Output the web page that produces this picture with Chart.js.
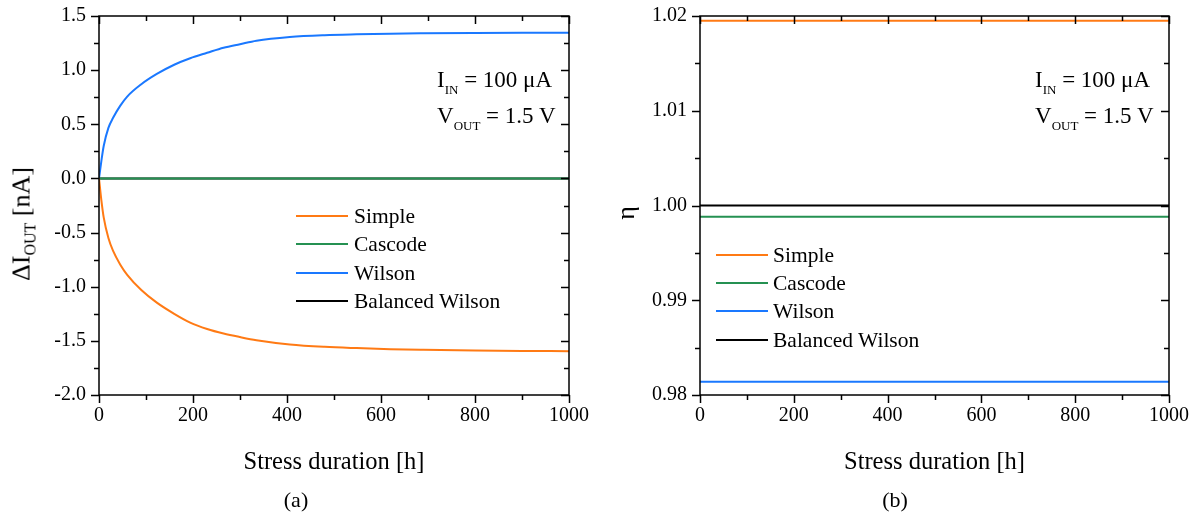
<!DOCTYPE html>
<html>
<head>
<meta charset="utf-8">
<script src="https://cdn.jsdelivr.net/npm/chart.js@4.4.1/dist/chart.umd.min.js"></script>
<style>
  html, body { margin:0; padding:0; background:#fff; }
  #wrap { position:relative; width:1199px; height:518px; background:#fff; overflow:hidden;
          font-family:"Liberation Serif", "DejaVu Serif", serif; color:#000; }
  .cv { position:absolute; top:0; }
  .txt { position:absolute; white-space:nowrap; font-size:23px; line-height:24px; }
  .sub { font-size:13px; position:relative; top:7px; }
  .leg { position:absolute; white-space:nowrap; font-size:21.5px; line-height:24px; }
  .legline { position:absolute; height:2px; }
</style>
</head>
<body>
<div id="wrap">
  <canvas id="c1" class="cv" width="590" height="518" style="left:0px"></canvas>
  <canvas id="c2" class="cv" width="609" height="518" style="left:590px"></canvas>
  <div class="txt" style="left:23px; top:224px; font-size:26px; line-height:28px; transform:translate(-50%,-50%) rotate(-90deg);">ΔI<span class="sub" style="font-size:16px;top:6px">OUT</span> [nA]</div>
  <div class="txt" style="left:626px; top:213px; font-size:26px; line-height:28px; transform:translate(-50%,-50%) rotate(-90deg);">η</div>
  <div class="txt" style="left:437px; top:68px;">I<span class="sub">IN</span> = 100 μA</div>
  <div class="txt" style="left:437px; top:104px;">V<span class="sub">OUT</span> = 1.5 V</div>
  <div class="txt" style="left:1035px; top:68px;">I<span class="sub">IN</span> = 100 μA</div>
  <div class="txt" style="left:1035px; top:104px;">V<span class="sub">OUT</span> = 1.5 V</div>
  <div class="txt" style="left:296px; top:500px; font-size:22px; transform:translate(-50%,-50%);">(a)</div>
  <div class="txt" style="left:895px; top:500px; font-size:22px; transform:translate(-50%,-50%);">(b)</div>
  <div id="legA"></div>
  <div id="legB"></div>
</div>
<script>
// ---------- data ----------
const seriesNames = ["Simple", "Cascode", "Wilson", "Balanced Wilson"];
const seriesColors = ["#ff7a14", "#259152", "#1a78ff", "#000000"];

// (a) Delta I_OUT [nA] vs stress duration [h]
const hoursA     = [0, 5, 10, 20, 30, 45, 60, 90, 123, 160, 194, 230, 265, 300, 335, 406, 480, 548, 620, 690, 800, 900, 1000];
const simpleA    = [0, -0.20, -0.36, -0.55, -0.67, -0.794, -0.89, -1.03, -1.147, -1.25, -1.331, -1.39, -1.432, -1.465, -1.494, -1.533, -1.555, -1.567, -1.577, -1.583, -1.590, -1.594, -1.595];
const cascodeA   = [0, 0, 0, 0, 0, 0, 0, 0, 0, 0, 0, 0, 0, 0, 0, 0, 0, 0, 0, 0, 0, 0, 0];
const wilsonA    = [0, 0.16, 0.30, 0.467, 0.56, 0.67, 0.756, 0.87, 0.965, 1.05, 1.11, 1.16, 1.207, 1.24, 1.272, 1.306, 1.323, 1.331, 1.337, 1.340, 1.343, 1.345, 1.346];
const balancedA  = [0, 0, 0, 0, 0, 0, 0, 0, 0, 0, 0, 0, 0, 0, 0, 0, 0, 0, 0, 0, 0, 0, 0];

// (b) eta vs stress duration [h]
const hoursB     = [0, 1000];
const simpleB    = [1.0195, 1.0195];
const cascodeB   = [0.9988, 0.9988];
const wilsonB    = [0.9814, 0.9814];
const balancedB  = [1.0000, 1.0000];

// axis ticks
const xTickStep = 200, xMinorStep = 100;
const yTickStepA = 0.5, yMinorStepA = 0.25;
const yTickStepB = 0.01, yMinorStepB = 0.005;

const FONT = "'Liberation Serif', 'DejaVu Serif', serif";

function pts(xs, ys) { return xs.map((x, i) => ({x: x, y: ys[i]})); }
function makeDatasets(xs, list) {
  return list.map((ys, i) => ({
    label: seriesNames[i], data: pts(xs, ys),
    borderColor: seriesColors[i], backgroundColor: seriesColors[i],
    borderWidth: 2, pointRadius: 0, cubicInterpolationMode: 'monotone', fill: false
  }));
}

const framePlugin = {
  id: 'frame',
  afterDatasetsDraw(chart, args, o) {
    const {ctx, chartArea: {left, right, top, bottom}, scales: {x, y}} = chart;
    ctx.save();
    ctx.strokeStyle = '#000'; ctx.lineWidth = 1.5; ctx.lineCap = 'butt';
    ctx.beginPath();
    const nx = Math.round((x.max - x.min) / o.xMin);
    for (let i = 0; i <= nx; i++) {
      const v = x.min + i * o.xMin;
      const major = (i % Math.round(o.xMaj / o.xMin)) === 0;
      const len = major ? 8 : 5;
      const px = Math.round(x.getPixelForValue(v)) + 0.5;
      ctx.moveTo(px, bottom); ctx.lineTo(px, bottom + len);
      ctx.moveTo(px, top); ctx.lineTo(px, top + len);
    }
    const ny = Math.round((y.max - y.min) / o.yMin);
    for (let i = 0; i <= ny; i++) {
      const v = y.min + i * o.yMin;
      const major = (i % Math.round(o.yMaj / o.yMin)) === 0;
      const len = major ? 8 : 5;
      const py = Math.round(y.getPixelForValue(v)) + 0.5;
      ctx.moveTo(left, py); ctx.lineTo(left - len, py);
      ctx.moveTo(right, py); ctx.lineTo(right - len, py);
    }
    ctx.stroke();
    ctx.strokeRect(left, top, right - left, bottom - top);
    ctx.restore();
  }
};

function baseOptions(cfg) {
  return {
    responsive: false, animation: false, devicePixelRatio: 1,
    layout: { padding: { left: 0, right: cfg.padRight, top: 16, bottom: 40 } },
    plugins: { legend: { display: false }, tooltip: { enabled: false },
               frame: { xMaj: xTickStep, xMin: xMinorStep, yMaj: cfg.yMaj, yMin: cfg.yMin } },
    scales: {
      x: {
        type: 'linear', min: 0, max: 1000,
        ticks: { stepSize: xTickStep, color: '#000', font: { family: FONT, size: 20 }, padding: 9, maxRotation: 0,
                 callback: v => String(Math.round(v)) },
        grid: { display: false, drawTicks: false }, border: { display: false },
        title: { display: true, text: 'Stress duration [h]', color: '#000', font: { family: FONT, size: 24.5 }, padding: { top: 0, bottom: 1 } },
        afterFit: s => { s.height = 83; s.paddingLeft = 0; s.paddingRight = 0; }
      },
      y: {
        type: 'linear', min: cfg.yMinV, max: cfg.yMaxV,
        ticks: { stepSize: cfg.yMaj, color: '#000', font: { family: FONT, size: 20 }, padding: 13,
                 callback: v => Number(v).toFixed(cfg.dec) },
        grid: { display: false, drawTicks: false }, border: { display: false },
        title: { display: false },
        afterFit: s => { s.width = cfg.yWidth; s.paddingTop = 0; s.paddingBottom = 0; }
      }
    }
  };
}

const chartA = new Chart(document.getElementById('c1'), {
  type: 'line',
  data: { datasets: makeDatasets(hoursA, [simpleA, cascodeA, wilsonA, balancedA]) },
  options: baseOptions({ padRight: 21, yMaj: yTickStepA, yMin: yMinorStepA, yMinV: -2, yMaxV: 1.5, dec: 1, yWidth: 99 }),
  plugins: [framePlugin]
});

const chartB = new Chart(document.getElementById('c2'), {
  type: 'line',
  data: { datasets: makeDatasets(hoursB, [simpleB, cascodeB, wilsonB, balancedB]) },
  options: baseOptions({ padRight: 30, yMaj: yTickStepB, yMin: yMinorStepB, yMinV: 0.98, yMaxV: 1.02, dec: 2, yWidth: 110 }),
  plugins: [framePlugin]
});

function buildLegend(el, chart, lx0, lx1, tx, y0, dy) {
  chart.data.datasets.forEach((ds, i) => {
    const yc = y0 + i * dy;
    const line = document.createElement('div');
    line.className = 'legline';
    line.style.left = lx0 + 'px'; line.style.width = (lx1 - lx0) + 'px';
    line.style.top = (yc - 1) + 'px'; line.style.background = ds.borderColor;
    el.appendChild(line);
    const t = document.createElement('div');
    t.className = 'leg'; t.textContent = ds.label;
    t.style.left = tx + 'px'; t.style.top = (yc - 12) + 'px';
    el.appendChild(t);
  });
}
buildLegend(document.getElementById('legA'), chartA, 296, 348, 354, 216, 28.3);
buildLegend(document.getElementById('legB'), chartB, 716, 768, 773, 255, 28.2);
</script>
</body>
</html>
